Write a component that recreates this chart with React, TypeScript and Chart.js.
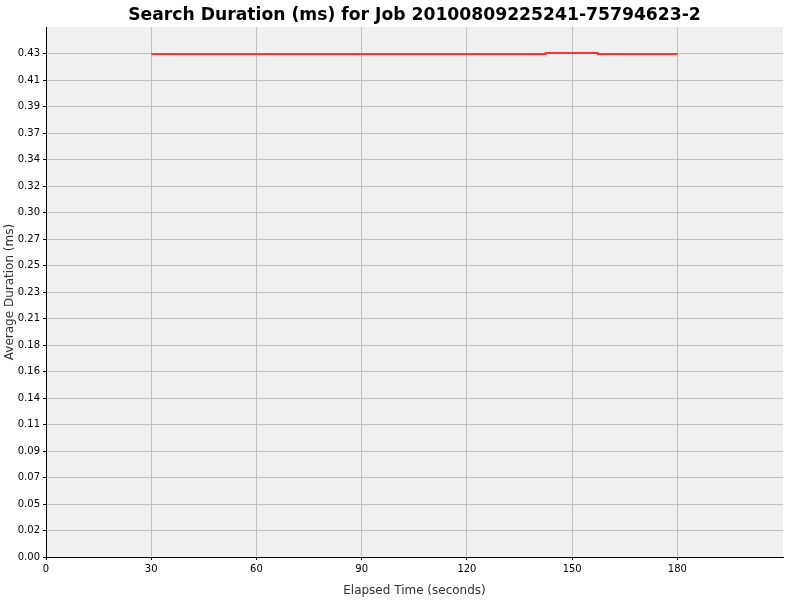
import { useEffect, useRef } from 'react';
import Chart from 'chart.js/auto';

// values
const elapsedSeconds = [30, 142.4, 157.3, 180];
const avgDurationMs = [0.4337, 0.4347, 0.4337, 0.4337];
const xTickValues = [0, 30, 60, 90, 120, 150, 180];
const yTickStep = 0.02285;
const yTickCount = 20;
const xMax = 210.1;
const yMax = 0.457;

const plotBackground = {
    id: 'plotBackground',
    beforeDraw: (chart: any) => {
        const { ctx, chartArea } = chart;
        ctx.save();
        ctx.fillStyle = '#f0f0f0';
        ctx.fillRect(chartArea.left, chartArea.top, chartArea.right - chartArea.left, chartArea.bottom - chartArea.top);
        ctx.restore();
    },
};

const App = () => {
    const chartRef = useRef<HTMLCanvasElement | null>(null);
    const chartInstanceRef = useRef<Chart | null>(null);

    useEffect(() => {
        document.body.style.margin = '0';
        if (chartRef.current) {
            if (chartInstanceRef.current) {
                chartInstanceRef.current.destroy();
            }

            chartInstanceRef.current = new Chart(chartRef.current, {
                type: 'line',
                data: {
                    datasets: [
                        {
                            label: 'Average Duration',
                            data: elapsedSeconds.map((x, i) => ({ x, y: avgDurationMs[i] })),
                            borderColor: 'rgb(255, 51, 51)',
                            borderWidth: 2,
                            pointRadius: 0,
                            stepped: true,
                            fill: false,
                        },
                    ],
                },
                options: {
                    animation: false,
                    responsive: false,
                    layout: { padding: { left: 3, right: 17, top: 0, bottom: 0 } },
                    plugins: {
                        legend: { display: false },
                        tooltip: { enabled: false },
                        title: {
                            display: true,
                            text: 'Search Duration (ms) for Job 20100809225241-75794623-2',
                            fullSize: false,
                            color: '#000',
                            font: { family: 'DejaVu Sans', size: 17.2, weight: 'bold' },
                            padding: { top: 5, bottom: 1.4 },
                        },
                    },
                    scales: {
                        x: {
                            type: 'linear',
                            min: 0,
                            max: xMax,
                            afterBuildTicks: (scale: any) => {
                                scale.ticks = xTickValues.map((value) => ({ value }));
                            },
                            afterFit: (scale: any) => {
                                scale.height = 43;
                            },
                            border: { display: true, color: '#000', width: 1 },
                            grid: { color: '#c0c0c0', tickColor: '#000', tickLength: 3, lineWidth: 1 },
                            ticks: {
                                color: '#000',
                                padding: 3,
                                maxRotation: 0,
                                font: { family: 'DejaVu Sans', size: 10 },
                                callback: (v: any) => String(v),
                            },
                            title: {
                                display: true,
                                text: 'Elapsed Time (seconds)',
                                color: '#333',
                                font: { family: 'DejaVu Sans', size: 12 },
                                padding: { top: 0, bottom: 2 },
                            },
                        },
                        y: {
                            type: 'linear',
                            min: 0,
                            max: yMax,
                            afterBuildTicks: (scale: any) => {
                                const ticks = [];
                                for (let i = 0; i < yTickCount; i++) ticks.push({ value: i * yTickStep });
                                scale.ticks = ticks;
                            },
                            afterFit: (scale: any) => {
                                scale.width = 43;
                            },
                            border: { display: true, color: '#000', width: 1 },
                            grid: { color: '#c0c0c0', tickColor: '#000', tickLength: 3, lineWidth: 1 },
                            ticks: {
                                color: '#000',
                                padding: 3,
                                font: { family: 'DejaVu Sans', size: 10 },
                                callback: (v: any) => Number(v).toFixed(2),
                            },
                            title: {
                                display: true,
                                text: 'Average Duration (ms)',
                                color: '#333',
                                font: { family: 'DejaVu Sans', size: 12 },
                                padding: 0,
                            },
                        },
                    },
                },
                plugins: [plotBackground],
            });
        }

        return () => {
            if (chartInstanceRef.current) {
                chartInstanceRef.current.destroy();
                chartInstanceRef.current = null;
            }
        };
    }, []);

    return (
        <div style={{ width: 800, height: 600, background: '#fff' }}>
            <canvas ref={chartRef} width={800} height={600}></canvas>
        </div>
    );
};

export default App;
